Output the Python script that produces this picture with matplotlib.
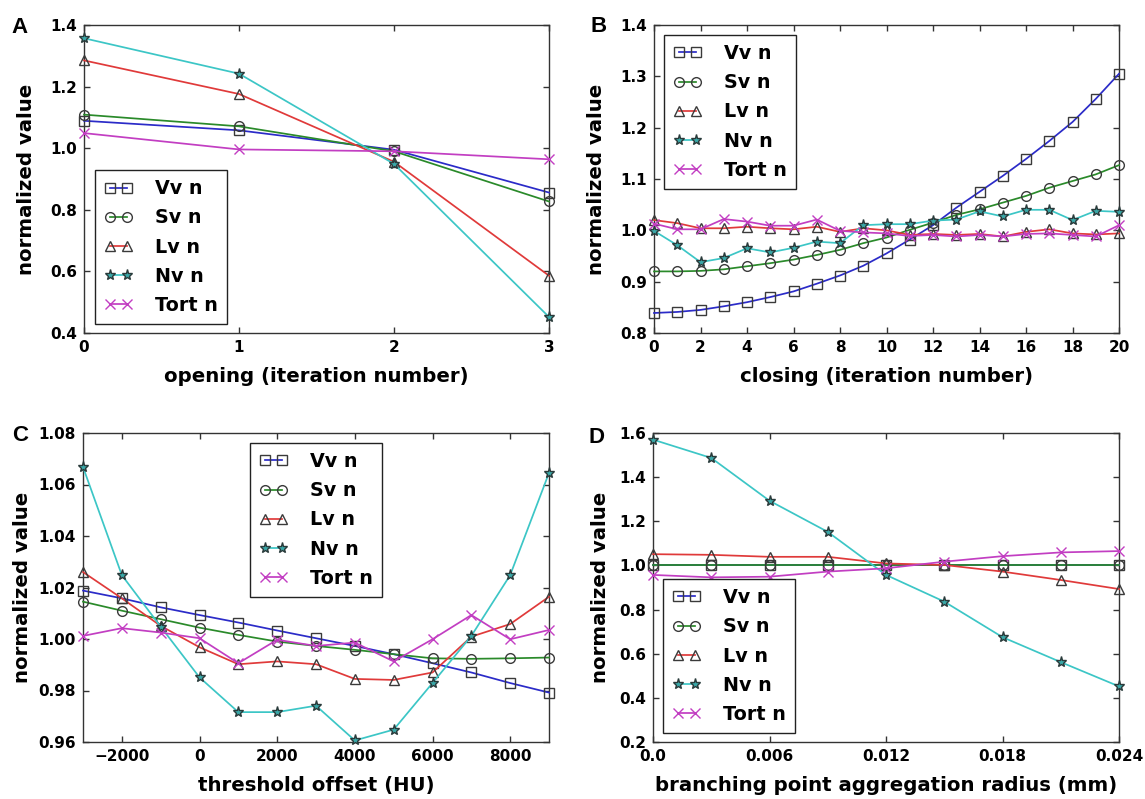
import matplotlib
matplotlib.use("Agg")
import matplotlib.pyplot as plt

# ---------------- data ----------------
series_names = ["Vv n", "Sv n", "Lv n", "Nv n", "Tort n"]

# Panel A: opening
open_x = [0, 1, 2, 3]
open_vv = [1.089, 1.058, 0.995, 0.856]
open_sv = [1.109, 1.071, 0.990, 0.827]
open_lv = [1.285, 1.176, 0.956, 0.586]
open_nv = [1.357, 1.242, 0.949, 0.452]
open_tort = [1.049, 0.996, 0.990, 0.964]

# Panel B: closing
close_x = list(range(0, 21))
close_vv = [0.839, 0.841, 0.845, 0.852, 0.860, 0.870, 0.881, 0.896, 0.912, 0.931,
            0.955, 0.982, 1.010, 1.044, 1.075, 1.106, 1.139, 1.174, 1.211, 1.256, 1.305]
close_sv = [0.920, 0.920, 0.921, 0.924, 0.930, 0.936, 0.943, 0.952, 0.962, 0.975,
            0.986, 1.001, 1.015, 1.030, 1.041, 1.054, 1.067, 1.083, 1.096, 1.109, 1.127]
close_lv = [1.020, 1.014, 1.004, 1.004, 1.007, 1.004, 1.002, 1.007, 0.997, 1.004,
            1.000, 0.991, 0.993, 0.991, 0.993, 0.988, 0.997, 1.002, 0.994, 0.992, 0.994]
close_nv = [0.999, 0.971, 0.938, 0.946, 0.965, 0.957, 0.966, 0.978, 0.975, 1.010,
            1.012, 1.012, 1.019, 1.021, 1.037, 1.027, 1.040, 1.040, 1.020, 1.038, 1.036]
close_tort = [1.013, 1.002, 1.002, 1.022, 1.017, 1.009, 1.009, 1.021, 0.999, 0.996,
              0.994, 0.989, 0.991, 0.988, 0.991, 0.988, 0.993, 0.994, 0.991, 0.988, 1.010]

# Panel C: threshold offset
thr_x = [-3000, -2000, -1000, 0, 1000, 2000, 3000, 4000, 5000, 6000, 7000, 8000, 9000]
thr_vv = [1.0188, 1.0158, 1.0123, 1.0093, 1.0064, 1.0033, 1.0003, 0.9973, 0.9941,
          0.9906, 0.9870, 0.9829, 0.9792]
thr_sv = [1.0145, 1.0110, 1.0077, 1.0044, 1.0016, 0.9990, 0.9973, 0.9958, 0.9941,
          0.9925, 0.9923, 0.9925, 0.9928]
thr_lv = [1.0260, 1.0158, 1.0051, 0.9968, 0.9902, 0.9913, 0.9902, 0.9845, 0.9841,
          0.9870, 1.0009, 1.0058, 1.0164]
thr_nv = [1.0668, 1.0248, 1.0048, 0.9851, 0.9716, 0.9716, 0.9741, 0.9606, 0.9648,
          0.9829, 1.0012, 1.0248, 1.0645]
thr_tort = [1.0012, 1.0042, 1.0025, 1.0003, 0.9906, 0.9997, 0.9973, 0.9986, 0.9913,
            0.9999, 1.0093, 0.9999, 1.0035]

# Panel D: branching point aggregation radius
rad_x = [0.0, 0.003, 0.006, 0.009, 0.012, 0.015, 0.018, 0.021, 0.024]
rad_vv = [1.0, 1.0, 1.0, 1.0, 1.0, 1.0, 1.0, 1.0, 1.0]
rad_sv = [1.0, 1.0, 1.0, 1.0, 1.0, 1.0, 1.0, 1.0, 1.0]
rad_lv = [1.051, 1.048, 1.039, 1.039, 1.009, 1.002, 0.972, 0.934, 0.893]
rad_nv = [1.570, 1.487, 1.293, 1.152, 0.957, 0.836, 0.675, 0.562, 0.452]
rad_tort = [0.957, 0.946, 0.949, 0.972, 0.987, 1.017, 1.042, 1.059, 1.065]

# ticks
a_xticks = [0, 1, 2, 3]
a_yticks = [0.4, 0.6, 0.8, 1.0, 1.2, 1.4]
a_ylabels = ["0.4", "0.6", "0.8", "1.0", "1.2", "1.4"]
b_xticks = list(range(0, 21, 2))
b_yticks = [0.8, 0.9, 1.0, 1.1, 1.2, 1.3, 1.4]
b_ylabels = ["0.8", "0.9", "1.0", "1.1", "1.2", "1.3", "1.4"]
c_xticks = [-2000, 0, 2000, 4000, 6000, 8000]
c_xlabels = ["\u22122000", "0", "2000", "4000", "6000", "8000"]
c_yticks = [0.96, 0.98, 1.00, 1.02, 1.04, 1.06, 1.08]
c_ylabels = ["0.96", "0.98", "1.00", "1.02", "1.04", "1.06", "1.08"]
d_xticks = [0.0, 0.006, 0.012, 0.018, 0.024]
d_xlabels = ["0.0", "0.006", "0.012", "0.018", "0.024"]
d_yticks = [0.2, 0.4, 0.6, 0.8, 1.0, 1.2, 1.4, 1.6]
d_ylabels = ["0.2", "0.4", "0.6", "0.8", "1.0", "1.2", "1.4", "1.6"]

# ---------------- style ----------------
plt.rcParams["font.family"] = ["DejaVu Sans"]
plt.rcParams["font.weight"] = "bold"

W, H = 1145, 799
fig = plt.figure(figsize=(W / 100, H / 100), dpi=100)

colors = ["#2b2bc8", "#2a8a2a", "#e03a3a", "#3cc6c6", "#c23ec2"]
MEC = "#3a3a3a"
styles = [
    dict(marker="s", mfc="none", mec=MEC),
    dict(marker="o", mfc="none", mec=MEC),
    dict(marker="^", mfc="none", mec=MEC),
    dict(marker="*", mfc="#3aa8a8", mec="#2a3a3a", ms=8),
    dict(marker="x", mec="#c23ec2"),
]

TICK_FS = 11
LABEL_FS = 14.2
LEG_FS = 13.8


def make_axes(l, r, t, b):
    return fig.add_axes([l / W, 1 - b / H, (r - l) / W, (b - t) / H])


def draw(ax, x, ys, xlim, ylim, xticks, xlabels, yticks, ylabels, xlabel,
         ylabel_x, leg_loc, leg_anchor):
    for y, name, c, st in zip(ys, series_names, colors, styles):
        kw = dict(ms=7, mew=1.0)
        kw.update(st)
        ax.plot(x, y, color=c, lw=1.25, label=name, clip_on=False, zorder=3, **kw)
    ax.set_xlim(*xlim)
    ax.set_ylim(*ylim)
    ax.set_xticks(xticks, xlabels if xlabels is not None else [str(v) for v in xticks])
    ax.set_yticks(yticks, ylabels)
    ax.tick_params(direction="in", length=4, width=1, top=True, right=True,
                   labelsize=TICK_FS, pad=5, color="#333333")
    for lab in ax.get_xticklabels() + ax.get_yticklabels():
        lab.set_fontweight("bold")
    for sp in ax.spines.values():
        sp.set_linewidth(1.0)
        sp.set_color("#333333")
    ax.set_xlabel(xlabel, fontsize=LABEL_FS, fontweight="bold", labelpad=9)
    ax.set_ylabel("normalized value", fontsize=LABEL_FS, fontweight="bold")
    ax.yaxis.set_label_coords(ylabel_x, 0.5)
    leg = ax.legend(loc=leg_loc, bbox_to_anchor=leg_anchor, borderaxespad=0,
                    numpoints=2, handlelength=1.5,
                    fancybox=False, framealpha=1, edgecolor="#222222",
                    labelspacing=0.53, borderpad=0.48, handletextpad=1.15,
                    prop=dict(weight="bold", size=LEG_FS))
    leg.get_frame().set_linewidth(1.0)


axA = make_axes(84, 549, 25, 333)
draw(axA, open_x, [open_vv, open_sv, open_lv, open_nv, open_tort],
     (0, 3), (0.4, 1.4), a_xticks, None, a_yticks, a_ylabels,
     "opening (iteration number)", -0.104, "lower left", (0.0237, 0.029))

axB = make_axes(654, 1119, 25, 333)
draw(axB, close_x, [close_vv, close_sv, close_lv, close_nv, close_tort],
     (0, 20), (0.8, 1.4), b_xticks, None, b_yticks, b_ylabels,
     "closing (iteration number)", -0.103, "upper left", (0.0215, 0.968))

axC = make_axes(83, 549, 433, 742)
draw(axC, thr_x, [thr_vv, thr_sv, thr_lv, thr_nv, thr_tort],
     (-3000, 9000), (0.96, 1.08), c_xticks, c_xlabels, c_yticks, c_ylabels,
     "threshold offset (HU)", -0.109, "upper center", (0.5, 0.968))

axD = make_axes(653, 1119, 433, 742)
draw(axD, rad_x, [rad_vv, rad_sv, rad_lv, rad_nv, rad_tort],
     (0, 0.024), (0.2, 1.6), d_xticks, d_xlabels, d_yticks, d_ylabels,
     "branching point aggregation radius (mm)", -0.092, "lower left", (0.0215, 0.029))

# panel letters
for letter, px, py in [("A", 11, 33), ("B", 591, 32), ("C", 12, 441), ("D", 589, 443)]:
    fig.text(px / W, 1 - py / H, letter, fontsize=16, fontweight="bold",
             family=["Liberation Sans", "DejaVu Sans"], ha="left", va="baseline")

fig.savefig("out.png", dpi=100)
